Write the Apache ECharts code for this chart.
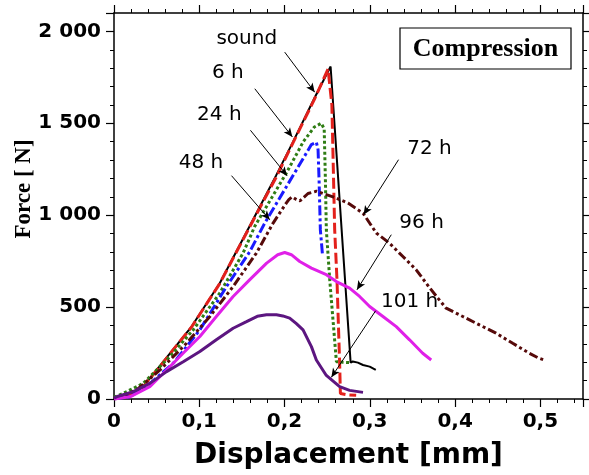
<!DOCTYPE html>
<html>
<head>
<meta charset="utf-8">
<script src="https://cdn.jsdelivr.net/npm/echarts@6/dist/echarts.min.js"></script>
<style>html,body{margin:0;padding:0;background:#fff;}#c{width:589px;height:475px;}</style>
</head>
<body>
<div id="c"></div>
<script>
// ---- data (displacement [mm], force [N]) ----
const sound = [[0,5],[0.01,10],[0.019,22],[0.034,67],[0.05,158],[0.069,267],[0.091,394],[0.124,630],[0.163,975],[0.19,1215],[0.2092,1392],[0.2354,1640],[0.254,1809],[0.2775,198],[0.280,204],[0.286,198],[0.292,185],[0.2998,176],[0.307,158]];
const h6 = [[0,0],[0.01,8],[0.02,25],[0.034,66],[0.05,155],[0.069,265],[0.091,392],[0.124,628],[0.163,970],[0.19,1205],[0.21,1395],[0.235,1630],[0.251,1795],[0.2555,1600],[0.2575,1190],[0.2588,920],[0.2615,648],[0.2646,196],[0.2655,30],[0.275,22],[0.284,20]];
const h24 = [[0,10],[0.011,31],[0.0343,85],[0.0656,231],[0.0929,376],[0.124,576],[0.1514,794],[0.165,939],[0.2022,1230],[0.222,1400],[0.235,1480],[0.243,1500],[0.2465,1470],[0.248,1175],[0.249,921],[0.253,648],[0.2608,203],[0.268,200],[0.2763,198]];
const h48 = [[0,0],[0.0187,12],[0.038,67],[0.0694,194],[0.1007,376],[0.132,612],[0.159,800],[0.1768,957],[0.2315,1384],[0.2373,1397],[0.2393,1357],[0.2405,1190],[0.242,920],[0.2445,785]];
const h72 = [[0,0],[0.0265,49],[0.054,158],[0.085,303],[0.1124,449],[0.1397,612],[0.167,794],[0.1866,957],[0.202,1066],[0.205,1085],[0.209,1100],[0.2139,1085],[0.218,1078],[0.2275,1118],[0.2373,1130],[0.2568,1100],[0.2744,1066],[0.292,1011],[0.3076,903],[0.323,848],[0.3388,775],[0.3544,703],[0.370,606],[0.3798,549],[0.3895,494],[0.409,449],[0.4286,403],[0.448,358],[0.4676,303],[0.487,249],[0.4969,225],[0.5047,212]];
const h96 = [[0,0],[0.0187,12],[0.042,67],[0.0617,158],[0.081,249],[0.1007,340],[0.12,449],[0.1397,558],[0.159,648],[0.179,739],[0.192,785],[0.2002,797],[0.208,785],[0.2178,748],[0.2315,712],[0.249,676],[0.2608,639],[0.2763,603],[0.288,558],[0.2998,503],[0.3154,449],[0.331,394],[0.3466,322],[0.362,249],[0.372,212]];
const h101 = [[0,5],[0.003,12],[0.0226,40],[0.042,85],[0.0617,149],[0.0812,203],[0.1007,258],[0.12,322],[0.1397,385],[0.1554,421],[0.168,450],[0.1788,458],[0.1905,458],[0.198,452],[0.206,440],[0.2139,410],[0.2217,376],[0.2315,285],[0.2373,212],[0.249,128],[0.2646,67],[0.2763,47],[0.292,36]];

const labelNames = ['sound','6 h','24 h','48 h','72 h','96 h','101 h'];
const labelX = [0.1557,0.1335,0.1235,0.102,0.370,0.3607,0.3466];
const labelY = [1962,1775,1548,1286,1362,959,529];
const arrowFrom = [[0.2002,1887],[0.1651,1688],[0.160,1462],[0.1378,1215],[0.3337,1302],[0.3252,894],[0.3068,480]];
const arrowTo = [[0.2354,1669],[0.2092,1426],[0.203,1215],[0.1827,975],[0.2927,1003],[0.2849,594],[0.2549,118]];

const xTicks = [0,0.1,0.2,0.3,0.4,0.5];
const yTicks = [0,500,1000,1500,2000];

const chart = echarts.init(document.getElementById('c'), null, {renderer:'canvas'});
const tickFont = {fontFamily:'DejaVu Sans', fontWeight:'bold', fontSize:20, color:'#000'};
function xAx(pos, showLabel){
  return {type:'value', position:pos, min:0, max:0.55, interval:0.1,
    axisLine:{show:true, onZero:false, lineStyle:{color:'#000', width:1.5}},
    axisTick:{show:true, inside:false, length:8, lineStyle:{color:'#000', width:1.2}},
    minorTick:{show:true, splitNumber:5, length:4, lineStyle:{color:'#000', width:1}},
    splitLine:{show:false},
    axisLabel: showLabel ? Object.assign({show:true, margin:13,
      formatter: v => { const r = Math.round(v*10)/10; return xTicks.some(t=>Math.abs(t-v)<1e-6) ? String(r).replace('.',',') : ''; }}, tickFont) : {show:false},
    name: showLabel ? 'Displacement [mm]' : '', nameLocation:'middle', nameGap:43,
    nameTextStyle:{fontFamily:'DejaVu Sans', fontWeight:'bold', fontSize:28, color:'#000'}
  };
}
function yAx(pos, showLabel){
  return {type:'value', position:pos, min:0, max:2100, interval:500,
    axisLine:{show:true, onZero:false, lineStyle:{color:'#000', width:1.5}},
    axisTick:{show:true, inside:false, length:8, lineStyle:{color:'#000', width:1.2}},
    minorTick:{show:true, splitNumber:5, length:4, lineStyle:{color:'#000', width:1}},
    splitLine:{show:false},
    axisLabel: showLabel ? Object.assign({show:true, margin:13,
      formatter: v => yTicks.indexOf(v) >= 0 ? String(v).replace(/\B(?=(\d{3})+(?!\d))/g,' ') : ''}, tickFont) : {show:false}
  };
}
function ln(name, data, color, width, type){
  return {name:name, type:'line', data:data, xAxisIndex:0, yAxisIndex:0, showSymbol:false, symbol:'none',
    lineStyle:{color:color, width:width, type:type}, silent:true, animation:false};
}
chart.setOption({
  animation:false,
  grid:{left:114, right:6, top:13, bottom:76, containLabel:false},
  xAxis:[xAx('bottom', true), xAx('top', false)],
  yAxis:[yAx('left', true), yAx('right', false)],
  series:[
    ln('sound', sound, '#000000', 2, 'solid'),
    ln('6 h', h6, '#e3211c', 3, [11,4]),
    ln('24 h', h24, '#2f7d14', 3, [3,2.5]),
    ln('48 h', h48, '#1a1aff', 3, [10,3,3,3]),
    ln('72 h', h72, '#560a0a', 3, [9,3,3,3,3,3]),
    ln('96 h', h96, '#e020e8', 3, 'solid'),
    ln('101 h', h101, '#5c1680', 3, 'solid'),
    {name:'annotations', type:'scatter', xAxisIndex:0, yAxisIndex:0, symbolSize:1, silent:true,
      itemStyle:{opacity:0},
      data: labelNames.map((n,i)=>({name:n, value:[labelX[i], labelY[i]]})),
      label:{show:true, position:'inside', formatter:'{b}', fontFamily:'DejaVu Sans', fontSize:20, color:'#000', opacity:1},
      markLine:{silent:true, symbol:['none','arrow'], symbolSize:[6,9], animation:false,
        lineStyle:{color:'#000', width:1, type:'solid'}, label:{show:false},
        data: arrowFrom.map((f,i)=>[{coord:f},{coord:arrowTo[i]}])}
    }
  ],
  graphic:[
    {type:'text', x:24, y:189, rotation:Math.PI/2,
      style:{text:'Force [ N]', font:'bold 23px "Liberation Serif"', fill:'#000', align:'center', verticalAlign:'middle'}},
    {type:'rect', shape:{x:400, y:28, width:171, height:41}, style:{fill:'#fff', stroke:'#000', lineWidth:1.2}},
    {type:'text', x:485.5, y:49, style:{text:'Compression', font:'bold 26px "Liberation Serif"', fill:'#000', align:'center', verticalAlign:'middle'}}
  ]
});
</script>
</body>
</html>
